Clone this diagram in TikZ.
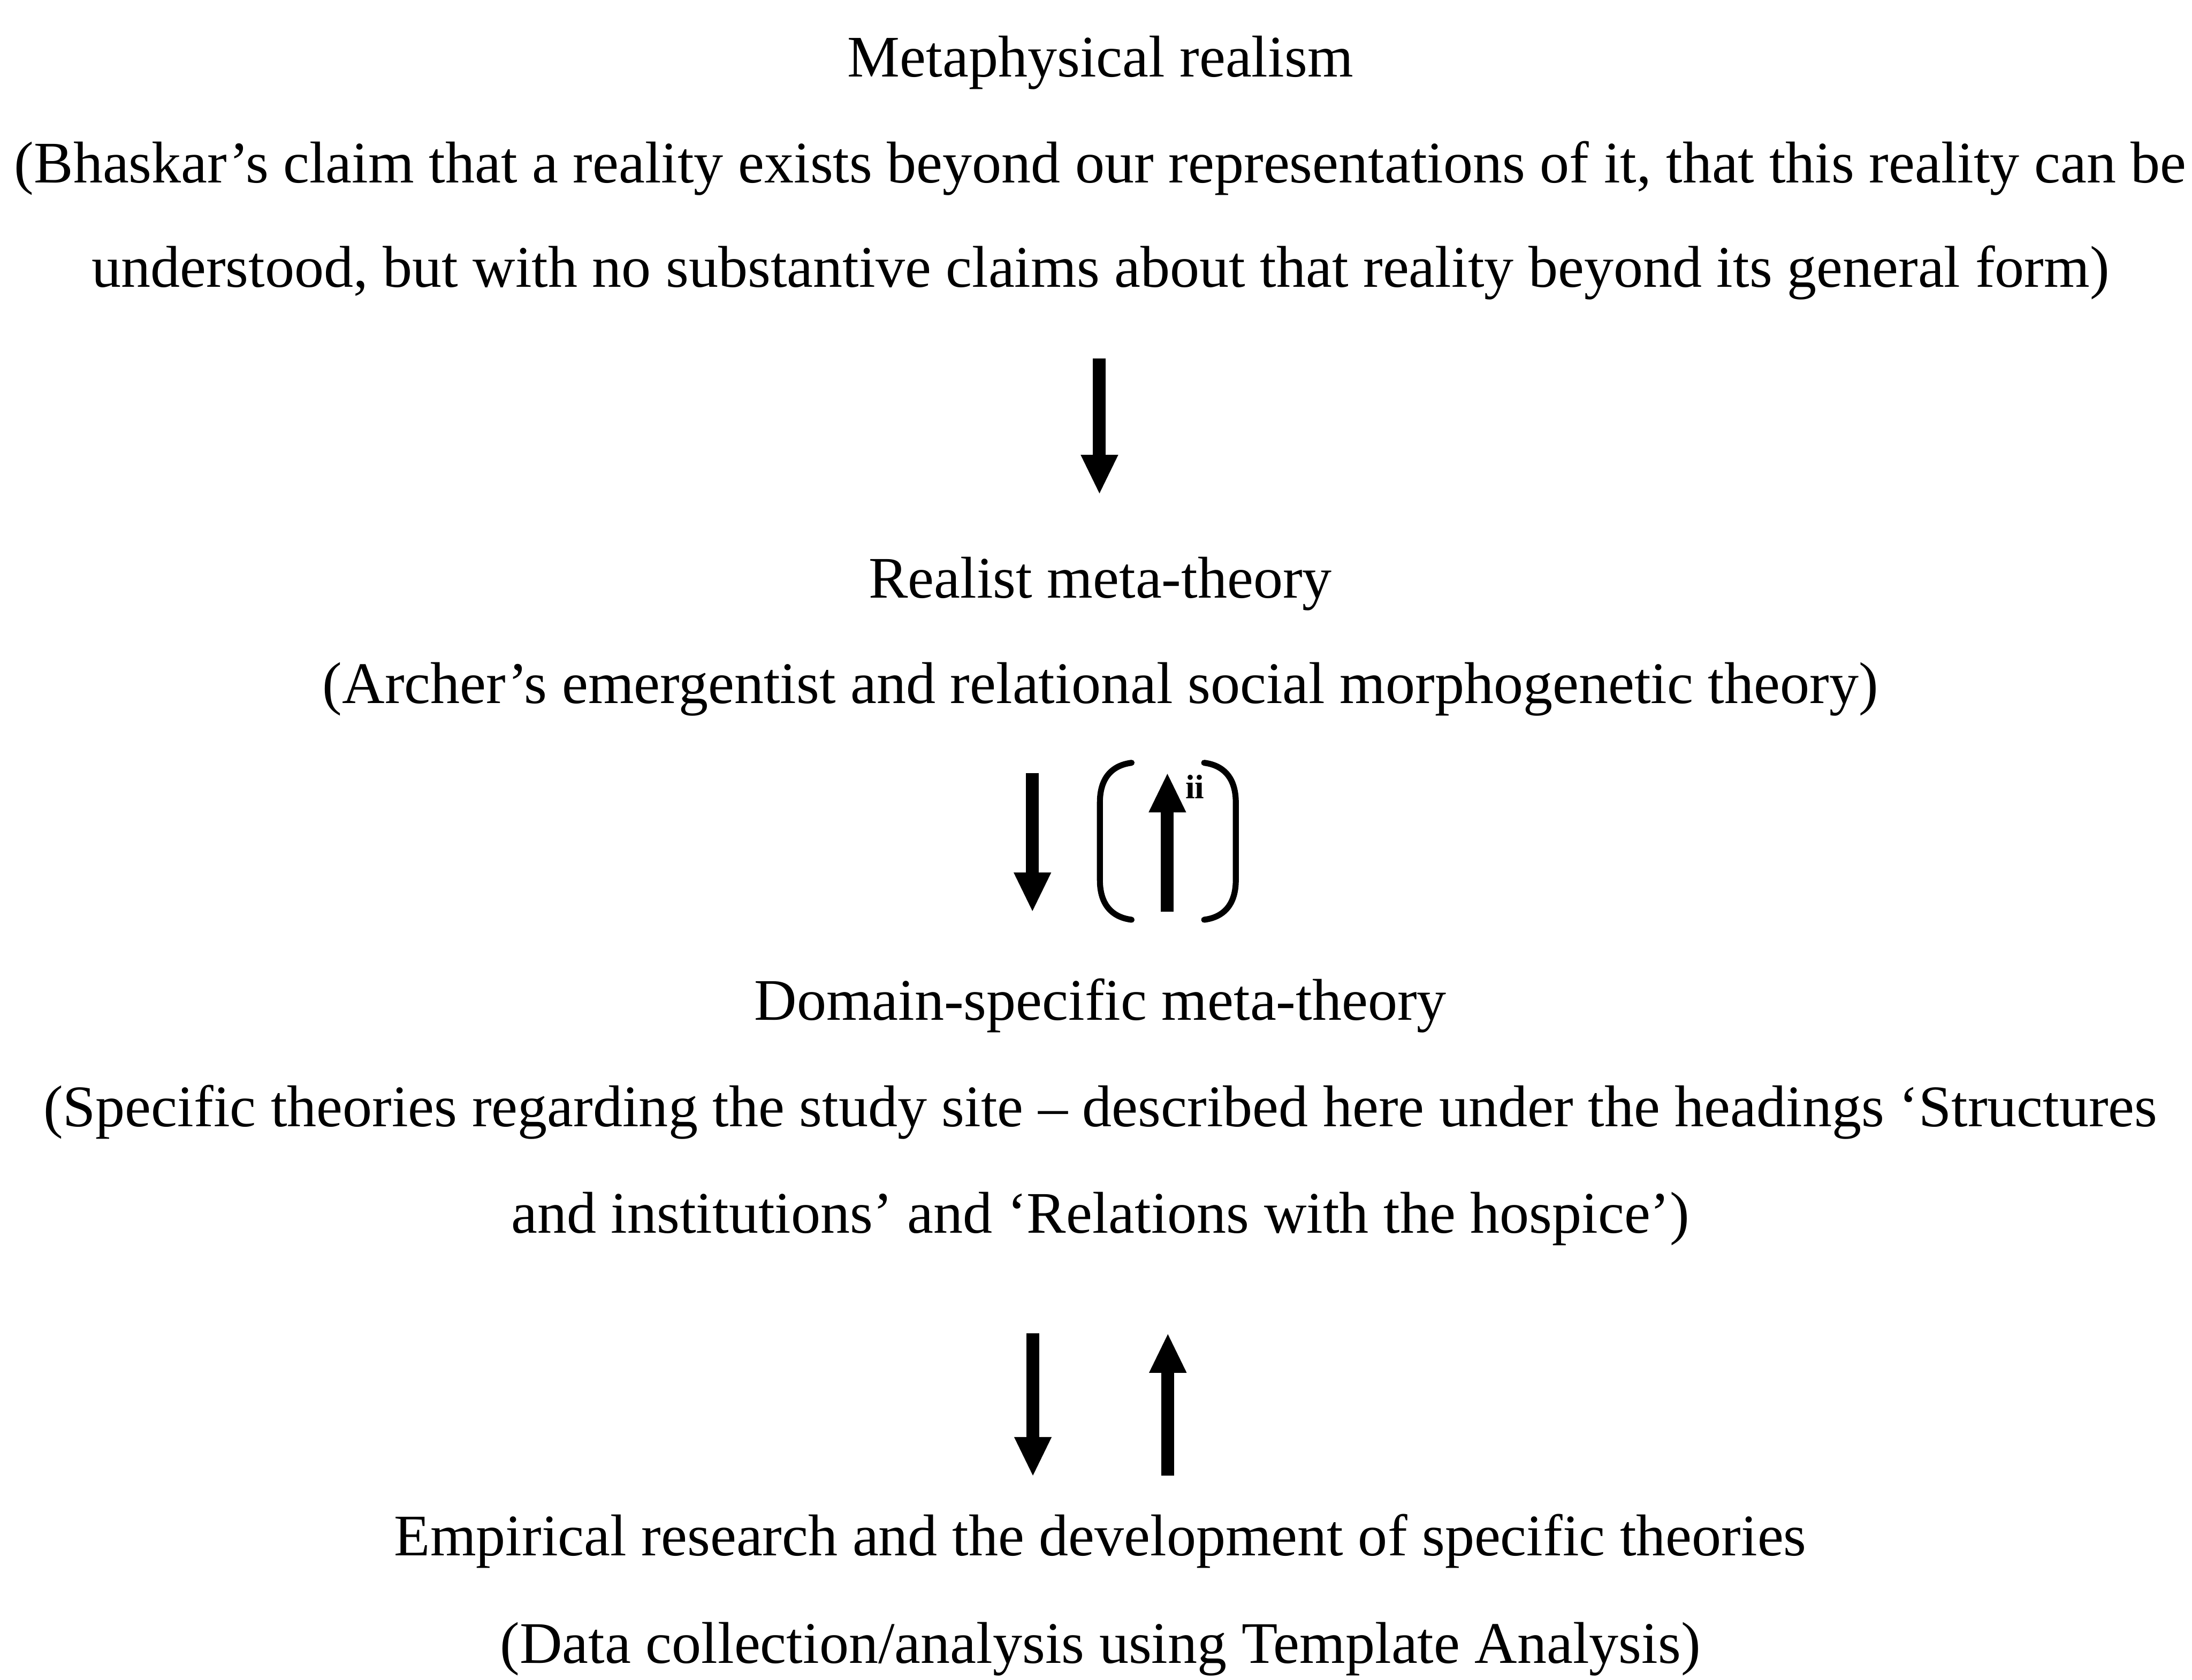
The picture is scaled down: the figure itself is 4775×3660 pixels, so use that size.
\documentclass[tikz,border=0pt]{standalone}
\usepackage{fontspec}
\setmainfont{Liberation Serif}
\usetikzlibrary{arrows.meta}

\begin{document}
\begin{tikzpicture}[
    x=0.01cm, y=-0.01cm,
    txt/.style={font=\fontsize{36.5pt}{44pt}\selectfont, inner sep=0pt, anchor=base},
    note/.style={font=\fontsize{21pt}{24pt}\selectfont\bfseries, inner sep=0pt, anchor=base},
    bigarrow/.style={line width=0.28cm,
      -{Triangle[length=0.84cm, width=0.82cm, line width=0pt]}},
    bracket/.style={line width=0.13cm, line cap=round}
  ]
  \useasboundingbox[fill=white] (0,0) rectangle (4775,3660);

  % Level 1: metaphysical realism
  \node[txt] (mr)  at (2397,167) {Metaphysical realism};
  \node[txt] (mr1) at (2397,398) {(Bhaskar’s claim that a reality exists beyond our representations of it, that this reality can be};
  \node[txt] (mr2) at (2397,625) {understood, but with no substantive claims about that reality beyond its general form)};

  % Level 2: realist meta-theory
  \node[txt] (rm)  at (2397,1303) {Realist meta-theory};
  \node[txt] (rm1) at (2397,1532) {(Archer’s emergentist and relational social morphogenetic theory)};

  % Level 3: domain-specific meta-theory
  \node[txt] (ds)  at (2397,2223) {Domain-specific meta-theory};
  \node[txt] (ds1) at (2397,2454) {(Specific theories regarding the study site – described here under the headings ‘Structures};
  \node[txt] (ds2) at (2397,2686) {and institutions’ and ‘Relations with the hospice’)};

  % Level 4: empirical research
  \node[txt] (er)  at (2397,3389) {Empirical research and the development of specific theories};
  \node[txt] (er1) at (2397,3624) {(Data collection/analysis using Template Analysis)};

  % Arrow end points between the levels
  \coordinate (a1s) at (2395,781);
  \coordinate (a1e) at (2395,1075);
  \coordinate (a2s) at (2249,1684);
  \coordinate (a2e) at (2249,1985);
  \coordinate (a3s) at (2543,1987);
  \coordinate (a3e) at (2543,1686);
  \coordinate (a4s) at (2250,2905);
  \coordinate (a4e) at (2250,3215);
  \coordinate (a5s) at (2544,3215);
  \coordinate (a5e) at (2544,2907);

  \draw[bigarrow] (a1s) -- (a1e);
  \draw[bigarrow] (a2s) -- (a2e);
  \draw[bigarrow] (a3s) -- (a3e);
  \draw[bigarrow] (a4s) -- (a4e);
  \draw[bigarrow] (a5s) -- (a5e);

  % Round brackets around the upward arrow
  \draw[bracket] (2465,1662) .. controls (2418,1668) and (2396,1700) .. (2396,1748)
                 -- (2396,1918) .. controls (2396,1966) and (2418,1998) .. (2465,2004);
  \draw[bracket] (2623,1662) .. controls (2670,1668) and (2692,1700) .. (2692,1748)
                 -- (2692,1918) .. controls (2692,1966) and (2670,1998) .. (2623,2004);

  % Note marker beside the upward arrow
  \node[note] (fn) at (2603,1740) {ii};
\end{tikzpicture}
\end{document}
